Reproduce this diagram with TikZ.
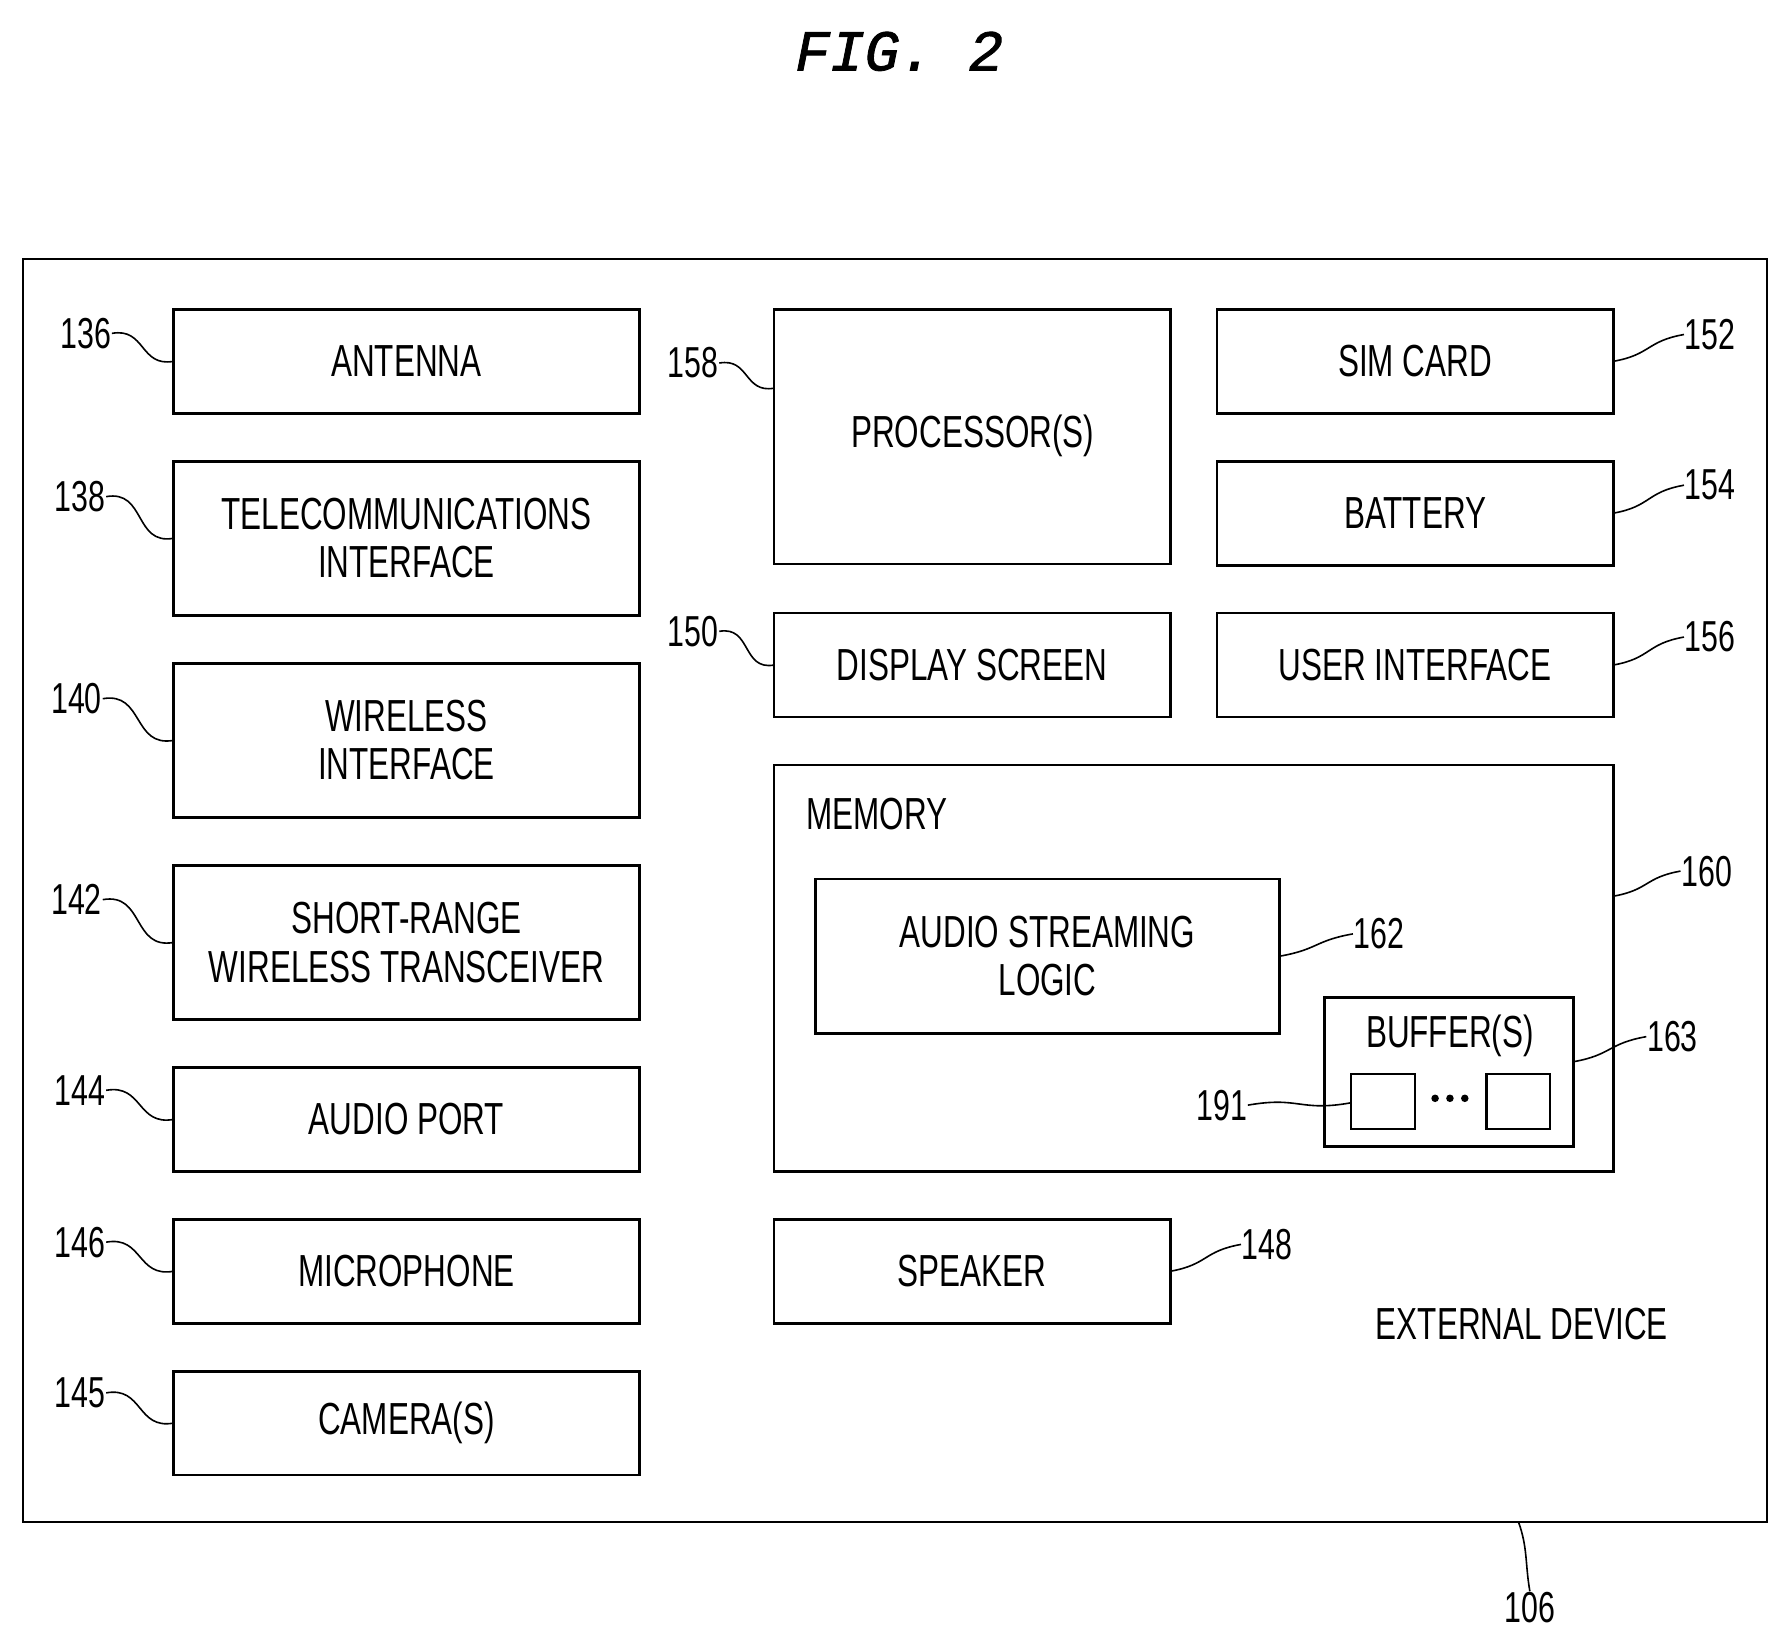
\documentclass[tikz,border=0pt]{standalone}
\usepackage{fontspec}
\setmainfont{Liberation Sans}[FakeStretch=0.7]
\newfontfamily\monoit{Liberation Mono}[FakeSlant=0.2,FakeBold=1.5]
\begin{document}
\begin{tikzpicture}[x=0.05cm,y=-0.05cm,
 box/.style={draw,line width=3.4pt,inner sep=0pt},
 t/.style={font=\fontsize{56}{60}\selectfont,align=center},
 lab/.style={font=\fontsize{54}{56}\selectfont,inner sep=1pt},
 sq/.style={line width=2pt,out=10,in=190,looseness=1.3}]
\useasboundingbox (0,0) rectangle (1567,1443);
\node[font=\fontsize{72}{74}\selectfont\monoit] (fig) at (785,45) {FIG. 2};
\draw[line width=2.6pt] (20,227) rectangle (1548,1333);
\coordinate (ob) at (1330,1333);
\newcommand\bx[6]{\draw[box] (#2,#3) rectangle (#4,#5); \node[t] (#1) at ({(#2+#4)/2},{(#3+#5)/2}) {#6};
 \coordinate (#1w) at (#2,{(#3+#5)/2}); \coordinate (#1e) at (#4,{(#3+#5)/2});}
\bx{ant}{152}{271}{560}{362}{ANTENNA}
\bx{tel}{152}{404}{560}{539}{TELECOMMUNICATIONS\\INTERFACE}
\bx{wir}{152}{581}{560}{716}{WIRELESS\\INTERFACE}
\bx{srw}{152}{758}{560}{893}{SHORT-RANGE\\WIRELESS TRANSCEIVER}
\bx{aud}{152}{935}{560}{1026}{AUDIO PORT}
\bx{mic}{152}{1068}{560}{1159}{MICROPHONE}
\bx{cam}{152}{1201}{560}{1292}{CAMERA(S)}
\draw[box] (678,271) rectangle (1025,494); \node[t] (pro) at (852,382) {PROCESSOR(S)};
\coordinate (prow) at (678,340);
\bx{dis}{678}{537}{1025}{628}{DISPLAY SCREEN}
\bx{spk}{678}{1068}{1025}{1159}{SPEAKER}
\bx{sim}{1066}{271}{1413}{362}{SIM CARD}
\bx{bat}{1066}{404}{1413}{495}{BATTERY}
\bx{ui}{1066}{537}{1413}{628}{USER INTERFACE}
\draw[box] (678,670) rectangle (1413,1026); \node[t] (mem) at (768,713) {MEMORY};
\coordinate (meme) at (1413,785);
\bx{asl}{714}{770}{1121}{905}{AUDIO STREAMING\\LOGIC}
\draw[box] (1160,874) rectangle (1378,1004); \node[t] (buf) at (1270,907) {BUFFER(S)};
\coordinate (bufe) at (1378,930);
\draw[line width=2.6pt] (1183,941) rectangle (1239,989); \coordinate (b1) at (1183,966);
\draw[line width=2.6pt] (1302,941) rectangle (1358,989);
\foreach \i [count=\k] in {1257,1270,1283}{\fill (\i,962) circle (3.3);}
\node[t] (ext) at (1333,1160) {EXTERNAL DEVICE};
\node[lab] (l136) at (75,292) {136}; \draw[sq] (l136.east) to (antw);
\node[lab] (l138) at (70,435) {138}; \draw[sq] (l138.east) to (telw);
\node[lab] (l140) at (67,612) {140}; \draw[sq] (l140.east) to (wirw);
\node[lab] (l142) at (67,788) {142}; \draw[sq] (l142.east) to (srww);
\node[lab] (l144) at (70,955) {144}; \draw[sq] (l144.east) to (audw);
\node[lab] (l146) at (70,1088) {146}; \draw[sq] (l146.east) to (micw);
\node[lab] (l145) at (70,1220) {145}; \draw[sq] (l145.east) to (camw);
\node[lab] (l158) at (607,318) {158}; \draw[sq] (l158.east) to (prow);
\node[lab] (l150) at (607,553) {150}; \draw[sq] (l150.east) to (disw);
\node[lab] (l148) at (1110,1090) {148}; \draw[sq] (spke) to (l148.west);
\node[lab] (l152) at (1498,293) {152}; \draw[sq] (sime) to (l152.west);
\node[lab] (l154) at (1498,425) {154}; \draw[sq] (bate) to (l154.west);
\node[lab] (l156) at (1498,558) {156}; \draw[sq] (uie) to (l156.west);
\node[lab] (l160) at (1495,763) {160}; \draw[sq] (meme) to (l160.west);
\node[lab] (l162) at (1208,818) {162}; \draw[sq] (asle) to (l162.west);
\node[lab] (l163) at (1465,908) {163}; \draw[sq] (bufe) to (l163.west);
\node[lab] (l191) at (1070,968) {191}; \draw[sq] (l191.east) to (b1);
\node[lab] (l106) at (1340,1408) {106}; \draw[line width=2pt,out=-70,in=100] (ob) to (l106.north);
\end{tikzpicture}
\end{document}
